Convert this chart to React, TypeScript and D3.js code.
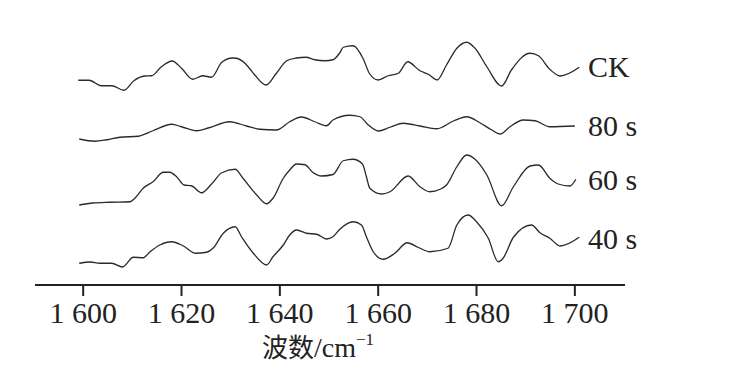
import React from "react";
import * as d3 from "d3";

// Wavenumber (cm^-1) and stacked intensity values
const ckX = [1599.0,1601.2,1603.7,1605.8,1608.3,1610.3,1612.5,1613.9,1615.9,1618.1,1620.0,1622.3,1624.3,1626.1,1628.2,1630.4,1631.2,1632.9,1634.9,1637.2,1639.3,1641.4,1643.4,1645.3,1647.1,1649.2,1650.8,1652.2,1652.9,1654.9,1657.0,1658.2,1660.0,1662.0,1664.1,1666.0,1668.5,1670.2,1672.0,1673.9,1676.0,1678.0,1679.7,1682.1,1685.1,1687.1,1690.9,1692.6,1694.9,1697.0,1700.9];
const ckY = [81.9,81.9,79.7,79.7,77.9,81.7,83.6,83.7,87.3,89.6,86.7,82.3,83.7,83.1,89.1,90.8,90.7,88.7,84.0,80.0,84.7,89.7,90.8,91.1,90.1,89.7,90.1,92.9,95.1,95.7,90.3,84.7,82.0,83.7,84.7,89.3,85.7,84.3,82.0,88.0,94.7,97.1,94.7,87.3,79.6,86.0,92.7,91.7,86.3,83.6,87.1];

const s80X = [1599.2,1602.4,1604.8,1607.5,1611.2,1614.2,1618.0,1620.0,1623.1,1625.4,1629.8,1633.2,1635.9,1639.3,1642.0,1644.4,1647.1,1649.5,1650.8,1654.2,1656.3,1658.0,1660.0,1662.4,1665.1,1668.5,1671.9,1675.3,1678.0,1680.7,1683.1,1684.8,1686.8,1689.5,1691.9,1694.9,1700.0];
const s80Y = [58.4,57.5,58.1,59.1,59.5,61.7,64.3,63.3,61.7,62.8,65.3,63.6,62.3,62.0,65.3,67.2,65.3,63.7,66.0,67.9,67.3,64.0,61.6,63.1,64.7,63.6,62.5,65.6,67.3,64.9,62.0,60.4,63.3,66.0,65.7,63.3,63.6];

const s60X = [1599.2,1602.0,1605.4,1609.5,1610.5,1612.2,1614.2,1616.3,1617.6,1619.0,1620.5,1622.0,1624.1,1626.1,1628.2,1630.9,1632.5,1635.3,1637.3,1638.6,1640.7,1642.0,1643.4,1645.1,1646.8,1648.5,1650.8,1652.9,1654.9,1656.8,1657.6,1658.3,1660.7,1662.4,1666.1,1668.5,1670.5,1672.6,1673.9,1676.0,1678.0,1679.7,1682.1,1685.1,1687.5,1690.9,1692.6,1694.9,1696.6,1699.0,1700.2];
const s60Y = [32.0,32.8,33.1,33.3,34.7,38.7,41.3,45.1,45.1,43.3,40.0,39.7,36.9,40.4,44.9,46.3,42.7,36.0,32.5,34.7,42.7,46.0,48.4,48.1,44.9,43.6,44.2,49.7,50.3,48.4,43.3,38.7,36.4,37.3,43.6,39.3,37.3,38.3,40.0,47.3,52.0,50.3,44.0,31.7,39.3,47.6,48.0,42.7,40.4,39.6,42.3];

const s40X = [1599.2,1601.4,1603.4,1605.8,1608.0,1610.2,1612.2,1613.6,1615.6,1618.0,1620.3,1622.9,1625.1,1626.4,1628.5,1630.9,1632.2,1634.6,1637.3,1638.6,1640.7,1642.0,1643.4,1645.4,1647.5,1649.5,1650.8,1652.2,1654.9,1656.6,1657.6,1659.0,1661.0,1663.4,1665.9,1668.1,1670.5,1674.2,1676.0,1678.3,1680.0,1682.4,1684.4,1685.4,1687.5,1691.2,1692.9,1694.9,1697.0,1700.9];
const s40Y = [8.7,9.2,8.7,8.7,7.2,11.1,10.9,13.3,16.0,17.3,15.7,12.7,13.1,14.7,20.7,23.3,19.3,12.7,8.0,11.3,16.0,20.0,22.0,20.7,20.3,18.4,19.3,22.3,25.3,24.0,19.3,13.3,10.3,12.7,16.9,15.1,13.3,14.7,24.0,28.0,25.3,18.7,9.3,10.7,19.1,24.0,20.9,18.7,15.6,19.1];

const seriesNames = ["CK", "80 s", "60 s", "40 s"];
const seriesXs = [ckX, s80X, s60X, s40X];
const seriesYs = [ckY, s80Y, s60Y, s40Y];
const labelValues = [87.1, 63.6, 42.3, 19.1];

const tickValues = [1600, 1620, 1640, 1660, 1680, 1700];
const tickLabels = ["1 600", "1 620", "1 640", "1 660", "1 680", "1 700"];
const xTitleMain = "波数";
const xTitleUnit = "/cm";
const xTitleSup = "−1";

const W = 754;
const H = 382;

export default function App() {
  const x = d3.scaleLinear().domain([1590.2, 1710.2]).range([35, 625]);
  const y = d3.scaleLinear().domain([0, 100]).range([285, 35]);
  const line = d3
    .line<[number, number]>()
    .x((d) => x(d[0]))
    .y((d) => y(d[1]))
    .curve(d3.curveMonotoneX);

  const serif = "'Liberation Serif', 'Times New Roman', serif";
  const axisY = y(0);

  return (
    <svg
      width={W}
      height={H}
      style={{ position: "absolute", left: 0, top: 0, background: "#fff" }}
    >
      <rect x={0} y={0} width={W} height={H} fill="#fff" />
      {seriesNames.map((name, i) => {
        const pts = seriesXs[i].map((v, j) => [v, seriesYs[i][j]] as [number, number]);
        return (
          <path
            key={name}
            d={line(pts) || ""}
            fill="none"
            stroke="#2a2a2a"
            strokeWidth={1.3}
            strokeLinejoin="round"
          />
        );
      })}
      {seriesNames.map((name, i) => (
        <text
          key={name + "-lab"}
          x={588}
          y={[77, 136, 190, 249][i]}
          fontFamily={serif}
          fontSize={30}
          fill="#222"
        >
          {name}
        </text>
      ))}
      <line x1={x.range()[0]} x2={x.range()[1]} y1={axisY} y2={axisY} stroke="#222" strokeWidth={2} />
      {tickValues.map((t, i) => (
        <g key={t}>
          <line x1={x(t)} x2={x(t)} y1={axisY} y2={axisY + 11} stroke="#222" strokeWidth={2} />
          <text
            x={x(t)}
            y={323}
            textAnchor="middle"
            fontFamily={serif}
            fontSize={30}
            fill="#222"
          >
            {tickLabels[i]}
          </text>
        </g>
      ))}
      <text x={262} y={357} fontSize={28} fill="#222" fontFamily={serif}>
        <tspan fontFamily="'Noto Sans CJK SC', sans-serif" fontSize={26}>{xTitleMain}</tspan>
        <tspan>{xTitleUnit}</tspan>
        <tspan fontSize={17} dy={-12}>{xTitleSup}</tspan>
      </text>
    </svg>
  );
}
